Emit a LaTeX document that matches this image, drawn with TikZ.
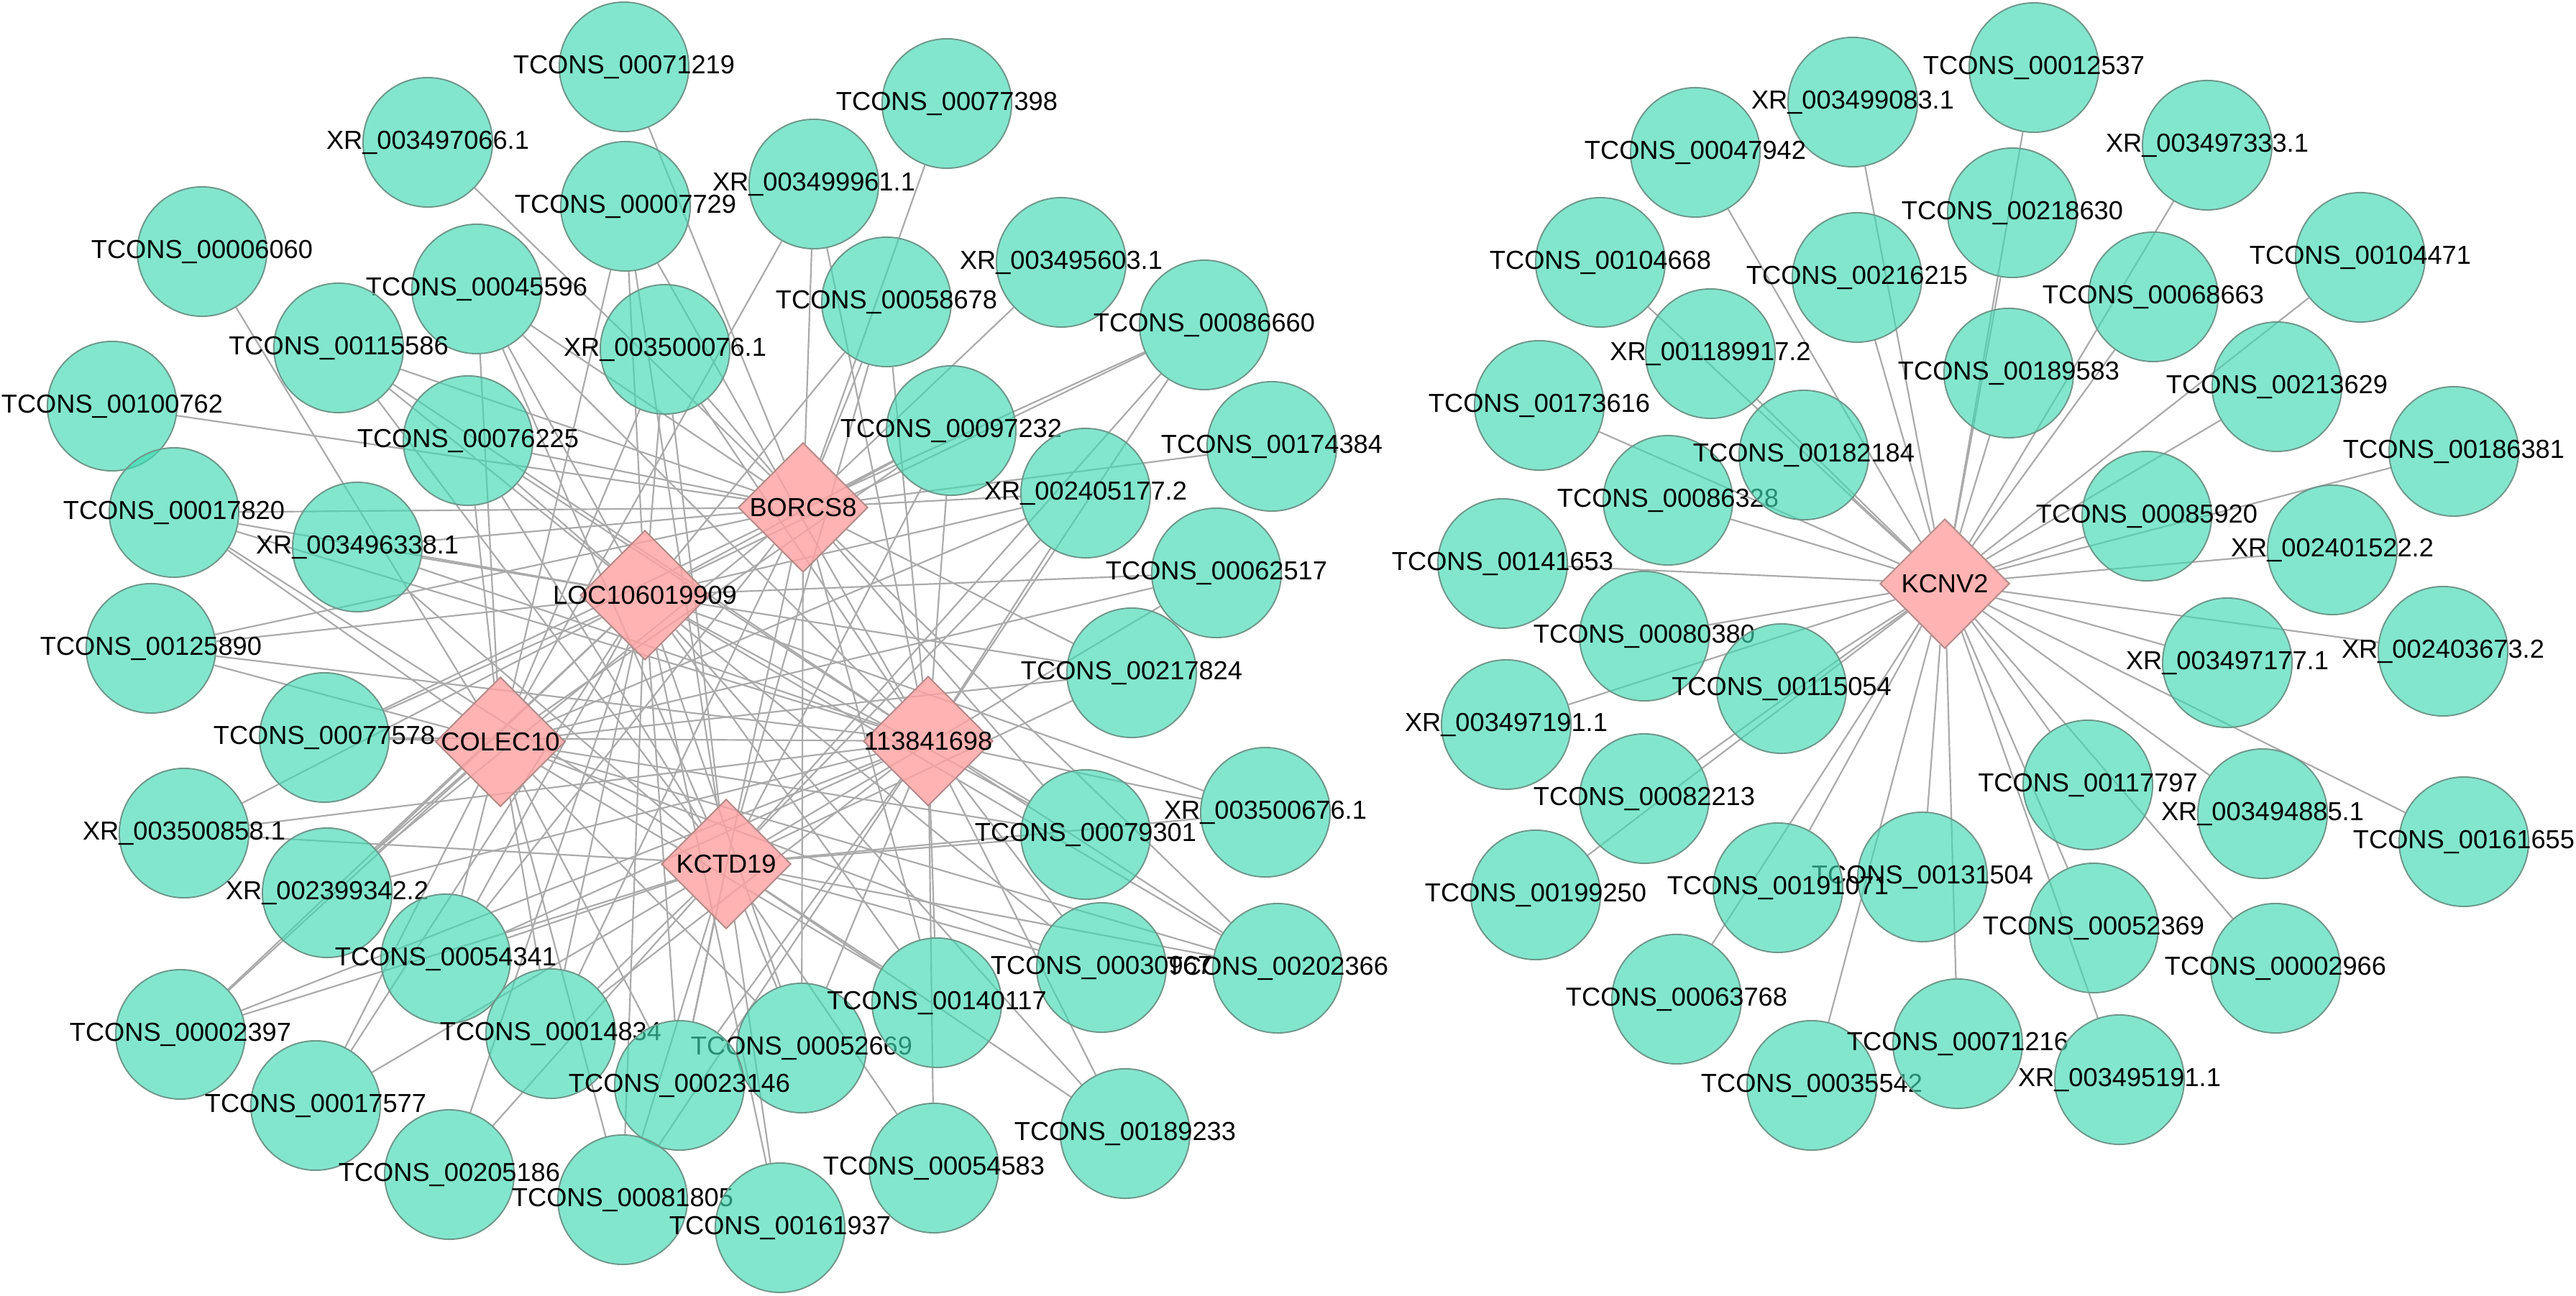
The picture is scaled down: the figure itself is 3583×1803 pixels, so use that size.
\documentclass[tikz,border=0pt]{standalone}
\usepackage{fontspec}
\setmainfont{Liberation Sans}
\usetikzlibrary{shapes.geometric,backgrounds}
\definecolor{genefill}{RGB}{63,217,178}
\definecolor{genedraw}{RGB}{110,150,138}
\definecolor{hubfill}{RGB}{255,160,160}
\definecolor{hubdraw}{RGB}{180,135,135}
\definecolor{edgegray}{RGB}{170,170,170}
\begin{document}
\begin{tikzpicture}[x=0.01cm, y=-0.01cm,
    gene/.style={circle, draw=genedraw, fill=genefill, fill opacity=0.65, text opacity=1, minimum size=1.8cm, inner sep=0pt, line width=0.55pt},
    hub/.style={diamond, draw=hubdraw, fill=hubfill, fill opacity=0.8, text opacity=1, minimum size=1.8cm, inner sep=0pt, line width=0.55pt},
    lbl/.style={font=\fontsize{10.3}{12}\selectfont, text=black, text opacity=1, inner sep=0pt},
    edge/.style={draw=edgegray, line width=0.62pt}]
    \useasboundingbox (0,0) rectangle (3583,1803);

    % left network, lncRNA nodes
    \node[gene, label={[lbl]center:TCONS\_00071219}] (t71219) at (868,93) {};
    \node[gene, label={[lbl]center:XR\_003497066.1}] (x3497066) at (595,198) {};
    \node[gene, label={[lbl]center:TCONS\_00077398}] (t77398) at (1317,144) {};
    \node[gene, label={[lbl]center:TCONS\_00007729}] (t7729) at (870,287) {};
    \node[gene, label={[lbl]center:XR\_003499961.1}] (x3499961) at (1132,256) {};
    \node[gene, label={[lbl]center:TCONS\_00006060}] (t6060) at (281,350) {};
    \node[gene, label={[lbl]center:XR\_003495603.1}] (x3495603) at (1476,365) {};
    \node[gene, label={[lbl]center:TCONS\_00045596}] (t45596) at (663,402) {};
    \node[gene, label={[lbl]center:TCONS\_00058678}] (t58678) at (1233,420) {};
    \node[gene, label={[lbl]center:TCONS\_00086660}] (t86660) at (1675,452) {};
    \node[gene, label={[lbl]center:TCONS\_00115586}] (t115586) at (471,484) {};
    \node[gene, label={[lbl]center:XR\_003500076.1}] (x3500076) at (925,486) {};
    \node[gene, label={[lbl]center:TCONS\_00100762}] (t100762) at (156,565) {};
    \node[gene, label={[lbl]center:TCONS\_00076225}] (t76225) at (651,613) {};
    \node[gene, label={[lbl]center:TCONS\_00097232}] (t97232) at (1323,599) {};
    \node[gene, label={[lbl]center:TCONS\_00174384}] (t174384) at (1769,621) {};
    \node[gene, label={[lbl]center:XR\_002405177.2}] (x2405177) at (1510,686) {};
    \node[gene, label={[lbl]center:TCONS\_00017820}] (t17820) at (242,713) {};
    \node[gene, label={[lbl]center:XR\_003496338.1}] (x3496338) at (497,761) {};
    \node[gene, label={[lbl]center:TCONS\_00062517}] (t62517) at (1692,797) {};
    \node[gene, label={[lbl]center:TCONS\_00125890}] (t125890) at (210,902) {};
    \node[gene, label={[lbl]center:TCONS\_00217824}] (t217824) at (1574,936) {};
    \node[gene, label={[lbl]center:TCONS\_00077578}] (t77578) at (451,1026) {};
    \node[gene, label={[lbl]center:XR\_003500676.1}] (x3500676) at (1760,1130) {};
    \node[gene, label={[lbl]center:XR\_003500858.1}] (x3500858) at (256,1159) {};
    \node[gene, label={[lbl]center:TCONS\_00079301}] (t79301) at (1510,1161) {};
    \node[gene, label={[lbl]center:XR\_002399342.2}] (x2399342) at (455,1242) {};
    \node[gene, label={[lbl]center:TCONS\_00054341}] (t54341) at (620,1334) {};
    \node[gene, label={[lbl]center:TCONS\_00030967}] (t30967) at (1532,1346) {};
    \node[gene, label={[lbl]center:TCONS\_00202366}] (t202366) at (1777,1347) {};
    \node[gene, label={[lbl]center:TCONS\_00002397}] (t2397) at (251,1439) {};
    \node[gene, label={[lbl]center:TCONS\_00014834}] (t14834) at (766,1438) {};
    \node[gene, label={[lbl]center:TCONS\_00052669}] (t52669) at (1115,1458) {};
    \node[gene, label={[lbl]center:TCONS\_00140117}] (t140117) at (1303,1395) {};
    \node[gene, label={[lbl]center:TCONS\_00017577}] (t17577) at (439,1538) {};
    \node[gene, label={[lbl]center:TCONS\_00023146}] (t23146) at (945,1510) {};
    \node[gene, label={[lbl]center:TCONS\_00189233}] (t189233) at (1565,1577) {};
    \node[gene, label={[lbl]center:TCONS\_00205186}] (t205186) at (625,1634) {};
    \node[gene, label={[lbl]center:TCONS\_00081805}] (t81805) at (866,1669) {};
    \node[gene, label={[lbl]center:TCONS\_00054583}] (t54583) at (1299,1625) {};
    \node[gene, label={[lbl]center:TCONS\_00161937}] (t161937) at (1085,1708) {};

    % left network, mRNA hubs
    \node[hub, label={[lbl]center:BORCS8}] (B) at (1117,706) {};
    \node[hub, label={[lbl]center:LOC106019909}] (L) at (897,828) {};
    \node[hub, label={[lbl]center:COLEC10}] (C) at (696,1032) {};
    \node[hub, label={[lbl]center:113841698}] (H) at (1291,1031) {};
    \node[hub, label={[lbl]center:KCTD19}] (K) at (1010,1202) {};

    % right network
    \node[gene, label={[lbl]center:XR\_003499083.1}] (r3499083) at (2577,142) {};
    \node[gene, label={[lbl]center:TCONS\_00012537}] (r12537) at (2829,94) {};
    \node[gene, label={[lbl]center:TCONS\_00047942}] (r47942) at (2358,212) {};
    \node[gene, label={[lbl]center:XR\_003497333.1}] (r3497333) at (3070,202) {};
    \node[gene, label={[lbl]center:TCONS\_00218630}] (r218630) at (2799,296) {};
    \node[gene, label={[lbl]center:TCONS\_00104668}] (r104668) at (2226,365) {};
    \node[gene, label={[lbl]center:TCONS\_00216215}] (r216215) at (2583,386) {};
    \node[gene, label={[lbl]center:TCONS\_00104471}] (r104471) at (3283,358) {};
    \node[gene, label={[lbl]center:TCONS\_00068663}] (r68663) at (2995,413) {};
    \node[gene, label={[lbl]center:XR\_001189917.2}] (r1189917) at (2379,492) {};
    \node[gene, label={[lbl]center:TCONS\_00189583}] (r189583) at (2794,519) {};
    \node[gene, label={[lbl]center:TCONS\_00173616}] (r173616) at (2141,564) {};
    \node[gene, label={[lbl]center:TCONS\_00213629}] (r213629) at (3167,538) {};
    \node[gene, label={[lbl]center:TCONS\_00086328}] (r86328) at (2320,696) {};
    \node[gene, label={[lbl]center:TCONS\_00182184}] (r182184) at (2509,633) {};
    \node[gene, label={[lbl]center:TCONS\_00186381}] (r186381) at (3413,628) {};
    \node[gene, label={[lbl]center:TCONS\_00141653}] (r141653) at (2090,784) {};
    \node[gene, label={[lbl]center:TCONS\_00085920}] (r85920) at (2986,718) {};
    \node[gene, label={[lbl]center:XR\_002401522.2}] (r2401522) at (3244,765) {};
    \node[gene, label={[lbl]center:TCONS\_00080380}] (r80380) at (2287,885) {};
    \node[gene, label={[lbl]center:XR\_003497177.1}] (r3497177) at (3098,922) {};
    \node[gene, label={[lbl]center:XR\_002403673.2}] (r2403673) at (3398,906) {};
    \node[gene, label={[lbl]center:XR\_003497191.1}] (r3497191) at (2095,1008) {};
    \node[gene, label={[lbl]center:TCONS\_00115054}] (r115054) at (2478,958) {};
    \node[gene, label={[lbl]center:TCONS\_00117797}] (r117797) at (2904,1092) {};
    \node[gene, label={[lbl]center:XR\_003494885.1}] (r3494885) at (3147,1132) {};
    \node[gene, label={[lbl]center:TCONS\_00161655}] (r161655) at (3427,1171) {};
    \node[gene, label={[lbl]center:TCONS\_00082213}] (r82213) at (2287,1111) {};
    \node[gene, label={[lbl]center:TCONS\_00199250}] (r199250) at (2136,1245) {};
    \node[gene, label={[lbl]center:TCONS\_00131504}] (r131504) at (2674,1220) {};
    \node[gene, label={[lbl]center:TCONS\_00191071}] (r191071) at (2473,1235) {};
    \node[gene, label={[lbl]center:TCONS\_00052369}] (r52369) at (2912,1291) {};
    \node[gene, label={[lbl]center:TCONS\_00002966}] (r2966) at (3165,1347) {};
    \node[gene, label={[lbl]center:TCONS\_00063768}] (r63768) at (2332,1390) {};
    \node[gene, label={[lbl]center:TCONS\_00035542}] (r35542) at (2520,1510) {};
    \node[gene, label={[lbl]center:TCONS\_00071216}] (r71216) at (2723,1452) {};
    \node[gene, label={[lbl]center:XR\_003495191.1}] (r3495191) at (2948,1502) {};
    \node[hub, label={[lbl]center:KCNV2}] (k) at (2705,812) {};

    % edges
    \begin{scope}[on background layer]
        \foreach \g in {t71219, x3497066, t77398, t100762, x3495603, t174384, x3499961, t45596, t115586, x3500076, t58678, t86660, t76225, t17820, x3496338, t97232, x2405177, t125890, t217824, t77578, t79301, x2399342, t54341, t202366, t14834, t140117, t52669, t23146}
            \draw[edge] (B) -- (\g);
        \foreach \g in {t7729, t45596, t115586, x3500076, t58678, t86660, t76225, t17820, x3496338, t97232, x2405177, t62517, t125890, t217824, t77578, x3500676, x3500858, t79301, x2399342, t54341, t202366, t2397, t14834, t140117, t52669, t17577, t23146, t189233, t205186, t81805, t161937, t30967}
            \draw[edge] (L) -- (\g);
        \foreach \g in {t6060, t7729, x3499961, t45596, x3500076, t76225, t17820, t97232, x2405177, t62517, t125890, t217824, t77578, t79301, x2399342, t54341, t30967, t202366, t2397, t14834, t140117, t52669, t17577, t23146, t81805}
            \draw[edge] (C) -- (\g);
        \foreach \g in {t7729, t45596, t115586, x3500076, t58678, t86660, t76225, t17820, x3496338, t97232, x2405177, t62517, t217824, x3500676, x3500858, t79301, t54341, t30967, t202366, t2397, t14834, t140117, t52669, t17577, t23146, t189233, t205186, t81805, t54583, t161937}
            \draw[edge] (K) -- (\g);
        \foreach \g in {t7729, x3499961, t45596, t115586, x3500076, t58678, t86660, t76225, t17820, x3496338, t97232, x2405177, t125890, t77578, x3500676, x3500858, t79301, x2399342, t54341, t30967, t202366, t2397, t14834, t140117, t52669, t23146, t189233, t81805, t54583}
            \draw[edge] (H) -- (\g);
        \foreach \g in {r3499083, r12537, r47942, r3497333, r218630, r104668, r216215, r104471, r68663, r1189917, r189583, r173616, r213629, r86328, r182184, r186381, r141653, r85920, r2401522, r80380, r3497177, r2403673, r3497191, r115054, r117797, r3494885, r161655, r82213, r199250, r131504, r191071, r52369, r2966, r63768, r35542, r71216, r3495191}
            \draw[edge] (k) -- (\g);
    \end{scope}
\end{tikzpicture}
\end{document}
